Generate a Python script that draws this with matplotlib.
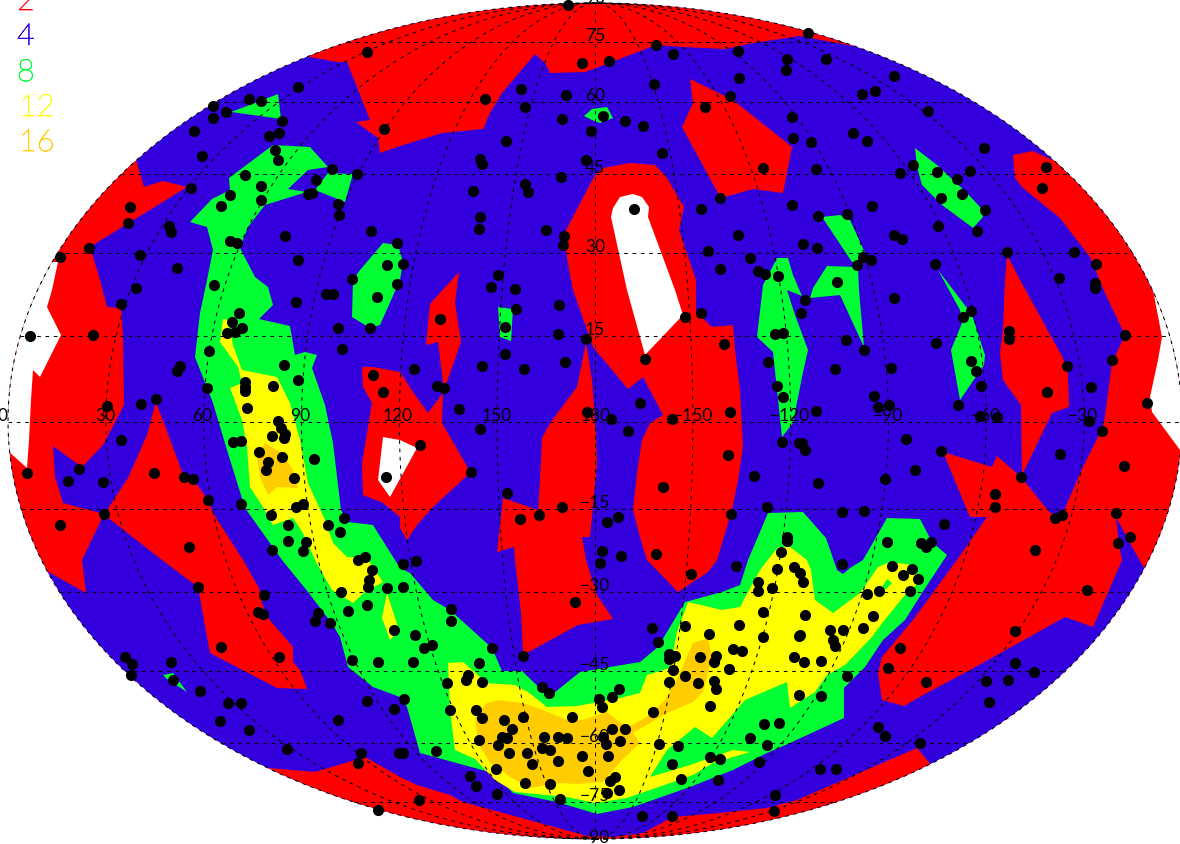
"""Source counts on a Mollweide sky map, filled contours with the sources on top."""
import numpy as np
import matplotlib
matplotlib.use("Agg")
import matplotlib.pyplot as plt
import matplotlib.patheffects as pe
from matplotlib.patches import Ellipse, Polygon

# map plane (x to the right, y downwards)
CX, CY, RX, RY = 595.0, 421.0, 587.0, 418.0

BLUE = "#3300dd"
RED = "#ff0000"
GREEN = "#00ff33"
YELLOW = "#ffff00"
ORANGE = "#ffcc00"
WHITE = "#ffffff"

legend_labels = ["2", "4", "8", "12", "16"]
legend_colors = [RED, BLUE, GREEN, YELLOW, ORANGE]
legend_x = [17, 17, 17, 19, 19]
legend_y = [10, 45, 81, 116, 151]

parallel_y = [42, 102, 174, 253, 336, 422, 509, 592, 671, 743, 802]
lat_labels = ["75", "60", "45", "30", "15", "", "\u221215", "\u221230", "\u221245", "\u221260", "\u221275"]
meridian_lon = [-150, -120, -90, -60, -30, 0, 30, 60, 90, 120, 150]
lon_labels = ["0", "30", "60", "90", "120", "150", "180", "\u2212150", "\u2212120", "\u221290", "\u221260", "\u221230"]
lon_label_x = [3, 105, 202, 300, 398, 497, 596, 693, 790, 888, 986, 1083]

# contour level 2-4
red_top = [(310,57),(337,62),(347,62),(370,120),(356,122),(378,138),(380,153),(400,146),(442,133),(483,129),
           (490,113),(502,93),(535,54),(545,63),(550,73),(585,72),(617,60),(656,45),(683,47),(725,49),(753,43),
           (800,36),(853,46),(853,-10),(310,-10)]
red_left = [(136,160),(144,187),(163,181),(187,187),(93,245),(92,253),(100,280),(107,307),(121,308),(123,336),
            (124,405),(103,445),(82,467),(53,446),(55,477),(63,503),(104,514),(82,560),(86,593),(45,570),(0,570),(0,160)]
red_wedge = [(156,402),(184,477),(193,479),(208,500),(213,513),(243,560),(259,588),(262,603),(268,618),(293,647),
             (293,662),(300,670),(307,689),(277,688),(210,653),(198,587),(162,560),(107,517),(104,514),(107,510),
             (128,478),(147,435)]
red_120 = [(362,367),(373,367),(400,372),(415,395),(428,413),(443,393),(442,423),(468,468),(471,472),(433,507),
           (417,525),(407,540),(400,528),(400,517),(383,503),(363,495),(362,463),(372,403),(363,387)]
red_thin = [(459,272),(430,304),(426,345),(438,342),(444,390),(461,342),(455,303)]
red_central = [(595,175),(603,168),(630,163),(655,165),(667,178),(684,207),(679,230),(696,280),(696,312),(712,327),
               (733,325),(735,350),(740,390),(743,447),(738,480),(732,510),(717,560),(708,572),(678,592),(647,560),
               (640,537),(633,510),(637,473),(642,440),(650,423),(663,415),(643,377),(628,389),(593,347),(573,290),
               (566,253),(566,230)]
red_lower = [(586,343),(577,387),(550,423),(542,438),(540,480),(538,510),(503,498),(497,552),(514,547),(515,560),
             (521,613),(523,655),(578,625),(613,619),(597,595),(586,560),(582,537),(590,537),(597,463),(596,437),(592,380)]
red_upper = [(690,79),(693,103),(682,127),(720,197),(725,197),(753,189),(783,193),(792,147),(733,100)]
red_right = [(1013,155),(1033,151),(1052,160),(1200,160),(1200,570),(1145,570),(1130,543),(1116,517),(1119,545),
             (1122,560),(1093,627),(1065,617),(970,670),(923,695),(904,706),(882,700),(878,673),(882,657),(913,620),
             (957,560),(987,517),(970,517),(943,452),(992,467),(997,456),(1021,477),(1050,513),(1062,515),(1083,467),
             (1100,433),(1104,423),(1112,363),(1125,335),(1105,293),(1090,257),(1060,218),(1023,188),(1015,178)]
red_diamond = [(1007,255),(1020,280),(1063,358),(1068,373),(1069,407),(1052,413),(1022,475),(1021,405),(1003,380),
               (1000,353),(1003,330),(1005,280)]
red_bottom = [(258,767),(315,772),(325,769),(365,757),(400,777),(417,785),(450,795),(463,802),(587,836),(613,837),
              (643,833),(673,817),(720,813),(767,808),(797,800),(917,748),(932,766),(932,860),(258,860)]

# contour level 0-2
white_left = [(58,262),(52,290),(47,307),(61,335),(40,377),(33,370),(31,400),(29,440),(27,468),(8,451),(0,451),(0,262)]
white_right = [(1153,290),(1162,337),(1158,360),(1150,397),(1152,412),(1180,450),(1200,450),(1200,280),(1150,280)]
white_120 = [(383,437),(400,440),(417,448),(390,497),(378,480)]
white_central = [(620,197),(633,194),(642,197),(649,207),(648,217),(675,290),(683,315),(645,355),(627,290),(611,217),(613,208)]

# contour level 8-12
green_arch = [(190,222),(212,199),(230,190),(229,178),(273,145),(310,147),(328,167),(308,170),(288,189),(307,192),
              (265,205),(248,227),(240,248),(255,277),(268,287),(273,305),(259,319),(290,326),(295,355),(305,352),
              (317,355),(312,368),(325,405),(333,443),(341,510),(348,522),(373,525),(400,568),(410,573),(433,600),
              (450,610),(492,648),(502,671),(522,671),(549,697),(580,672),(640,662),(658,647),(685,602),(722,592),
              (740,585),(748,560),(768,513),(803,512),(826,538),(837,570),(843,574),(850,568),(863,560),(887,518),
              (920,519),(932,542),(947,555),(922,593),(905,620),(883,640),(865,667),(844,688),(844,718),(790,743),
              (767,753),(733,770),(690,787),(633,807),(597,814),(557,802),(513,793),(493,773),(420,753),(407,707),
              (400,697),(373,687),(348,667),(340,637),(333,625),(308,592),(282,560),(245,508),(227,450),(213,403),
              (195,357),(200,313),(207,280),(213,250),(207,227)]
green_pentagon = [(328,173),(353,174),(345,202),(315,190)]
green_352 = [(383,243),(398,245),(403,262),(400,280),(380,325),(370,328),(352,317),(353,280),(360,270)]
green_500 = [(498,307),(513,309),(511,341),(500,337)]
green_top = [(584,116),(592,109),(607,107),(613,118),(600,123),(592,120)]
green_topleft = [(231,112),(247,106),(278,94),(281,119),(260,116)]
green_low = [(163,675),(173,673),(187,692),(167,679)]
green_ne = [(915,148),(937,165),(967,193),(980,207),(983,217),(973,228),(942,205),(922,185),(917,167)]
green_sliver = [(822,217),(840,215),(850,220),(867,257),(863,263),(852,262)]
green_fork = [(827,266),(858,267),(859,290),(864,347),(840,295),(810,298),(813,288)]
green_vert = [(777,258),(788,258),(793,275),(802,296),(787,290),(795,315),(808,350),(802,377),(793,423),(782,437),
              (773,352),(757,337),(763,285)]
green_east = [(938,270),(967,308),(973,318),(985,355),(984,365),(960,400),(951,350),(962,323),(960,310)]

# contour level 12-16
yellow_left = [(223,319),(228,320),(233,345),(242,370),(277,377),(290,403),(300,440),(308,483),(325,520),(333,543),
               (347,557),(367,558),(383,582),(365,592),(353,603),(332,590),(315,560),(303,533),(293,518),(273,525),
               (263,507),(250,487),(247,447),(242,420),(230,388),(242,383),(238,367),(220,342)]
yellow_small = [(387,593),(399,630),(390,640),(382,618)]
yellow_bottom = [(448,663),(463,662),(478,675),(485,683),(515,685),(528,692),(547,707),(577,706),(620,698),(640,693),
                 (647,675),(670,668),(677,632),(688,602),(722,610),(740,607),(753,583),(760,570),(778,547),(790,547),
                 (807,560),(811,570),(815,600),(833,613),(860,593),(878,567),(890,562),(913,565),(920,582),(905,595),
                 (883,622),(872,637),(845,665),(827,675),(815,692),(790,708),(787,682),(745,700),(712,738),(695,727),
                 (667,750),(650,777),(690,765),(733,750),(750,752),(713,763),(693,775),(673,782),(627,798),(595,803),
                 (567,797),(515,792),(495,780),(475,759),(455,750),(450,710)]
green_dot = [(882,587),(887,579),(892,583),(885,590)]

# contour level above 16
orange_left = [(257,457),(265,443),(282,453),(293,470),(298,488),(277,487),(268,495),(260,477)]
orange_bottom = [(475,717),(487,703),(498,700),(523,703),(543,710),(567,720),(583,720),(607,712),(627,728),(650,715),
                 (665,700),(678,677),(693,643),(708,638),(712,657),(703,692),(693,702),(667,713),(633,733),(640,743),
                 (620,762),(603,782),(577,784),(560,783),(530,788),(512,778),(490,763),(478,743)]

sources_nw = [(367,52),(298,87),(213,106),(226,112),(213,118),(249,99),(261,101),(282,121),(279,133),(269,136),(194,131),
              (202,156),(384,129),(275,150),(278,160),(332,169),(357,174),(245,175),(316,180),(191,188),(261,186),(230,195),
              (308,194),(312,193),(261,200),(221,206),(338,204),(339,215),(130,207),(128,223),(169,226),(171,232),(371,231),
              (285,236),(230,241),(237,243),(397,243),(89,248),(60,257),(140,255),(298,260),(177,268),(387,265),(352,279),
              (397,284),(214,285),(136,288)]
sources_n = [(568,5),(656,45),(673,54),(738,51),(582,63),(609,61),(787,59),(786,70),(739,78),(654,84),(521,89),(566,95),
             (485,99),(730,96),(525,107),(705,107),(603,116),(562,119),(625,121),(643,126),(792,117),(591,131),(793,138),
             (506,141),(662,153),(480,159),(482,164),(586,160),(561,177),(763,168),(525,184),(528,192),(473,191),(720,198),
             (634,209),(701,209),(792,205),(480,217),(479,229),(546,230),(564,236),(563,245),(738,235),(708,251),(403,264),
             (750,258),(720,269),(758,271),(765,274),(778,276),(498,275),(491,287),(515,289)]
sources_ne = [(808,33),(826,59),(894,76),(862,94),(875,91),(928,111),(853,133),(867,141),(811,142),(984,148),(816,169),
              (1046,167),(913,165),(900,173),(937,172),(970,171),(957,179),(1042,188),(962,194),(941,198),(872,206),(985,210),
              (847,214),(818,216),(938,226),(977,231),(894,235),(902,239),(803,244),(817,248),(1007,252),(1074,252),(863,257),
              (871,260),(857,265),(935,264),(1096,264),(837,282),(1059,278),(1095,283),(1095,288)]
sources_w = [(326,294),(333,294),(296,302),(377,297),(121,304),(239,313),(232,322),(242,328),(235,332),(227,333),(338,328),
             (370,328),(30,336),(93,335),(209,351),(342,349),(284,365),(180,366),(177,371),(373,375),(298,380),(245,382),
             (245,387),(245,391),(273,386),(207,388),(383,392),(156,399),(141,404),(107,406),(247,408),(278,421),(281,428),
             (285,434),(284,438),(272,436),(121,440),(233,442),(241,441),(259,452),(282,457),(314,459),(268,462),(266,470),
             (79,469),(27,473),(68,481),(154,473),(184,477),(193,479),(294,478),(103,482),(386,477),(208,500),(241,504),
             (303,504),(296,507),(104,514),(271,515),(344,518),(60,525),(288,525),(328,525),(340,532),(288,541),(306,542),
             (303,551),(272,550),(189,547),(365,557),(358,560),(372,570)]
sources_c = [(559,305),(516,309),(440,319),(701,313),(685,317),(505,327),(558,334),(586,339),(724,344),(775,334),(783,333),
             (645,359),(505,354),(565,362),(768,362),(414,369),(482,366),(524,369),(437,386),(444,388),(777,386),(783,397),
             (640,403),(459,409),(587,412),(611,419),(730,412),(672,419),(480,429),(628,431),(782,442),(799,443),(420,445),
             (728,455),(471,472),(754,476),(663,487),(507,493),(562,507),(767,507),(539,515),(520,519),(731,514),(618,517),
             (607,522),(787,537),(787,541),(781,552),(602,551),(621,556),(656,554),(600,563),(736,566),(403,564),(416,561),
             (777,569),(794,567)]
sources_e = [(805,300),(801,313),(894,298),(971,311),(963,317),(1009,331),(1009,339),(1125,335),(846,340),(936,343),(864,350),
             (1112,360),(971,361),(835,369),(891,368),(976,371),(1067,366),(981,386),(1091,387),(1047,392),(874,396),(878,407),
             (889,405),(1147,403),(958,405),(816,411),(980,416),(997,417),(1089,421),(1102,431),(906,439),(802,443),(805,450),
             (941,451),(1060,454),(1124,466),(915,470),(885,479),(1021,477),(818,483),(995,494),(995,507),(842,512),(864,511),
             (1116,513),(1062,515),(1055,518),(944,524),(887,542),(921,543),(926,547),(931,542),(1130,537),(1118,543),(1035,550),
             (842,564),(892,566),(912,569)]
sources_sw = [(198,587),(264,595),(258,612),(263,614),(341,592),(387,588),(369,580),(368,587),(318,613),(315,621),(330,623),
              (348,611),(367,605),(394,630),(221,647),(279,657),(352,660),(378,662),(125,657),(132,664),(131,675),(171,662),
              (173,680),(200,691),(228,703),(241,703),(220,721),(249,730),(367,701),(394,709),(338,720),(287,749),(361,753),
              (358,763),(399,753),(378,810)]
sources_s = [(691,574),(758,582),(772,588),(758,591),(403,587),(575,602),(763,612),(451,609),(451,621),(739,625),(685,626),
             (652,628),(709,634),(415,635),(763,637),(799,636),(658,642),(432,645),(424,648),(492,648),(733,649),(742,651),
             (669,654),(675,656),(669,659),(700,657),(716,656),(714,662),(794,657),(523,656),(479,663),(413,662),(673,670),
             (729,669),(685,676),(468,675),(466,680),(482,682),(447,683),(669,682),(698,683),(714,681),(716,689),(542,687),
             (549,693),(619,689),(612,697),(599,699),(602,707),(404,699),(799,695),(710,706),(450,710),(476,710),(482,718),
             (504,720),(523,717),(572,717),(653,712),(512,729),(612,729),(625,729),(779,723),(764,724),(544,737),(558,737),
             (567,738),(507,738),(502,737),(603,737),(479,740),(498,745),(620,741),(606,744),(659,744),(750,738),(678,746),
             (767,745),(542,748),(550,750),(509,753),(527,753),(436,751),(403,753),(582,756),(608,756),(710,757),(720,759),
             (558,761),(532,764),(672,764),(759,762),(496,769),(588,771),(470,776),(476,786),(615,777),(610,781),(681,779),
             (718,780),(525,783),(550,784),(619,790),(607,793),(497,794),(560,799),(419,800),(775,795),(642,816),(672,816),
             (774,811)]
sources_se = [(800,573),(803,582),(903,575),(918,579),(879,591),(867,594),(910,591),(1087,590),(805,615),(873,616),(830,630),
              (843,630),(863,628),(800,635),(1015,631),(833,640),(835,646),(900,648),(804,662),(821,661),(1015,663),(888,668),
              (1034,672),(847,676),(926,682),(986,681),(1008,680),(821,696),(989,702),(878,727),(885,736),(920,743),(820,769),
              (836,769)]

fig = plt.figure(figsize=(11.8, 8.44), dpi=100)
ax = fig.add_axes([0, 0, 1, 1])
ax.set_xlim(0, 1180)
ax.set_ylim(844, 0)
ax.axis("off")

sky = Ellipse((CX, CY), 2 * RX, 2 * RY, fc=BLUE, ec="none", zorder=1)
ax.add_patch(sky)

layers = [
    (RED, [red_top, red_left, red_wedge, red_120, red_thin, red_central, red_lower, red_upper, red_right,
           red_diamond, red_bottom]),
    (WHITE, [white_left, white_right, white_120, white_central]),
    (GREEN, [green_arch, green_pentagon, green_352, green_500, green_top, green_topleft, green_low, green_ne,
             green_sliver, green_fork, green_vert, green_east]),
    (YELLOW, [yellow_left, yellow_small, yellow_bottom]),
    (GREEN, [green_dot]),
    (ORANGE, [orange_left, orange_bottom]),
]
for i, (col, polys) in enumerate(layers):
    for p in polys:
        patch = Polygon(p, closed=True, fc=col, ec="none", zorder=2 + i)
        ax.add_patch(patch)
        patch.set_clip_path(sky)

# graticule
grid = dict(color="k", lw=0.75, ls=(0, (3.5, 4.5)), zorder=10)
t = np.linspace(-np.pi / 2, np.pi / 2, 300)
for lon in meridian_lon:
    ax.plot(CX + RX * lon / 180.0 * np.cos(t), CY - RY * np.sin(t), **grid)
for y in parallel_y:
    half = RX * np.sqrt(1 - ((y - CY) / RY) ** 2)
    ax.plot([CX - half, CX + half], [y, y], **grid)
ax.plot(CX + RX * np.cos(2 * t), CY + RY * np.sin(2 * t), **grid)

# axis numbers
num = dict(fontsize=12.5, color="k", family="Lato", zorder=11)
for x, s in zip(lon_label_x, lon_labels):
    ax.text(x, 421, s, ha="center", va="baseline", **num)
for y, s in zip(parallel_y, lat_labels):
    if s:
        ax.text(595, y - 1, s, ha="center", va="baseline", **num)
ax.text(595, 3, "90", ha="center", va="baseline", **num)
ax.text(595, 843, "\u221290", ha="center", va="baseline", **num)

# legend, thin strokes, cut by the top of the image
for x, y, s, c in zip(legend_x, legend_y, legend_labels, legend_colors):
    txt = ax.text(x, y, s, ha="left", va="baseline", color=c, fontsize=22, family="Lato", weight="light", zorder=12)
    txt.set_path_effects([pe.withStroke(linewidth=0.5, foreground=c)])

sources = np.array(sources_nw + sources_n + sources_ne + sources_w + sources_c + sources_e
                   + sources_sw + sources_s + sources_se)
ax.scatter(sources[:, 0], sources[:, 1], s=64, c="k", lw=0, zorder=13, clip_on=False)

fig.savefig("out.png", dpi=100)
